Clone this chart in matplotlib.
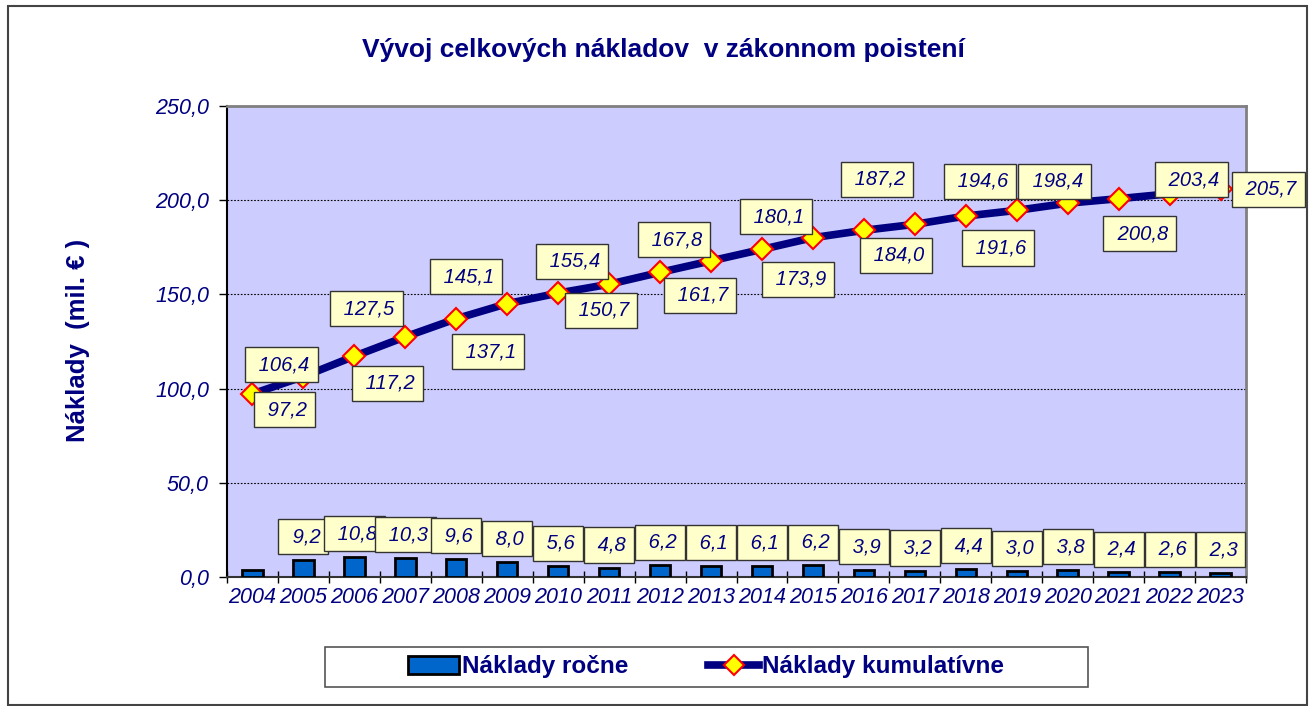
import matplotlib
matplotlib.use("Agg")
import matplotlib.pyplot as plt
import numpy as np
from matplotlib.patches import Rectangle, Patch
from matplotlib.lines import Line2D

plt.rcParams['font.family'] = ['Liberation Sans', 'DejaVu Sans']

# data
years = ['2004', '2005', '2006', '2007', '2008', '2009', '2010', '2011', '2012', '2013',
         '2014', '2015', '2016', '2017', '2018', '2019', '2020', '2021', '2022', '2023']
annual = [3.6, 9.2, 10.8, 10.3, 9.6, 8.0, 5.6, 4.8, 6.2, 6.1,
          6.1, 6.2, 3.9, 3.2, 4.4, 3.0, 3.8, 2.4, 2.6, 2.3]
cumulative = [97.2, 106.4, 117.2, 127.5, 137.1, 145.1, 150.7, 155.4, 161.7, 167.8,
              173.9, 180.1, 184.0, 187.2, 191.6, 194.6, 198.4, 200.8, 203.4, 205.7]
yticks = [0, 50, 100, 150, 200, 250]

# label offsets (pixels) for cumulative labels
cum_off = [(32, -16), (-22, 12), (33, -27), (-39, 28), (32, -33), (-41, 27),
           (43, -17), (-37, 23), (40, -23), (-37, 21), (36, -30), (-37, 21),
           (32, -25), (-38, 45), (32, -32), (-37, 29), (-13, 22), (21, -35),
           (22, 14), (48, 0)]

navy = '#000080'
fmt = lambda v: f"{v:.1f}".replace('.', ',')

fig = plt.figure(figsize=(13.13, 7.06), dpi=100)
ax = fig.add_axes([227/1313, 1-577/706, (1246-227)/1313, (577-106)/706])
ax.set_facecolor('#CCCCFF')

x = np.arange(len(years))
ax.bar(x, annual, width=0.4, color='#0066CC', edgecolor='black', linewidth=2, zorder=3)
ax.plot(x, cumulative, color=navy, linewidth=5.5, marker='D', markersize=11,
        markerfacecolor='#FFFF00', markeredgecolor='#FF0000', markeredgewidth=1.5,
        zorder=4, clip_on=False)

box = dict(boxstyle='square,pad=0.4', facecolor='#FFFFCC', edgecolor='#333333', linewidth=1)
for i, v in enumerate(cumulative):
    ax.annotate(' ' + fmt(v), (x[i], v), xytext=cum_off[i], textcoords='offset pixels',
                ha='center', va='center', fontsize=14.5, fontstyle='italic', color=navy,
                bbox=box, zorder=6, annotation_clip=False)
for i, v in enumerate(annual):
    if i == 0:
        continue
    ax.annotate(' ' + fmt(v), (x[i], v), xytext=(0, 23), textcoords='offset pixels',
                ha='center', va='center', fontsize=14.5, fontstyle='italic', color=navy,
                bbox=box, zorder=5, annotation_clip=False)

ax.set_xlim(-0.5, len(years) - 0.5)
ax.set_ylim(0, 250)
ax.set_yticks(yticks)
ax.set_yticklabels([fmt(t) for t in yticks], fontsize=15.5, fontstyle='italic', color=navy)
ax.set_xticks(x)
ax.set_xticklabels(years, fontsize=15.5, fontstyle='italic', color=navy)
ax.set_xticks(np.arange(-0.5, len(years)), minor=True)
ax.tick_params(axis='x', which='major', length=0, pad=7)
ax.tick_params(axis='x', which='minor', length=9, direction='inout', width=1, color='black')
ax.tick_params(axis='y', length=6, width=1, color='black', pad=7)
ax.yaxis.grid(True, linestyle=(0, (1.5, 1.5)), color='black', linewidth=0.8, zorder=1)
ax.set_axisbelow(True)

for s in ['top', 'right']:
    ax.spines[s].set_color('#808080')
    ax.spines[s].set_linewidth(2)
ax.spines['left'].set_color('black')
ax.spines['left'].set_linewidth(1.5)
ax.spines['bottom'].set_color('#333333')
ax.spines['bottom'].set_linewidth(1.5)

fig.text(663/1313, 1-50/706, 'Vývoj celkových nákladov  v zákonnom poistení',
         ha='center', va='center', fontsize=19, fontweight='bold', color=navy)
fig.text(78/1313, 1-340/706, 'Náklady  (mil. € )', rotation=90,
         ha='center', va='center', fontsize=18.5, fontweight='bold', color=navy)

# legend with its own box
fig.patches.append(Rectangle((325/1313, 1-687/706), (1088-325)/1313, 40/706,
                             transform=fig.transFigure, facecolor='white',
                             edgecolor='#555555', linewidth=1.2))
handles = [Patch(facecolor='#0066CC', edgecolor='black', linewidth=2),
           Line2D([], [], color=navy, linewidth=5.5, marker='D', markersize=10,
                  markerfacecolor='#FFFF00', markeredgecolor='#FF0000', markeredgewidth=1.5)]
leg = fig.legend(handles, ['Náklady ročne', 'Náklady kumulatívne'], loc='center',
                 bbox_to_anchor=(706/1313, 1-667/706), ncol=2, frameon=False,
                 handlelength=2.1, handletextpad=0.1, columnspacing=3.3, numpoints=1,
                 prop={'size': 17.5, 'weight': 'bold'})
for t in leg.get_texts():
    t.set_color(navy)

# outer frame
fig.patches.append(Rectangle((8/1313, 0.002), 1299/1313, 1-6/706-0.002,
                             transform=fig.transFigure, fill=False,
                             edgecolor='#444444', linewidth=1.5))

fig.savefig('out.png', dpi=100)
